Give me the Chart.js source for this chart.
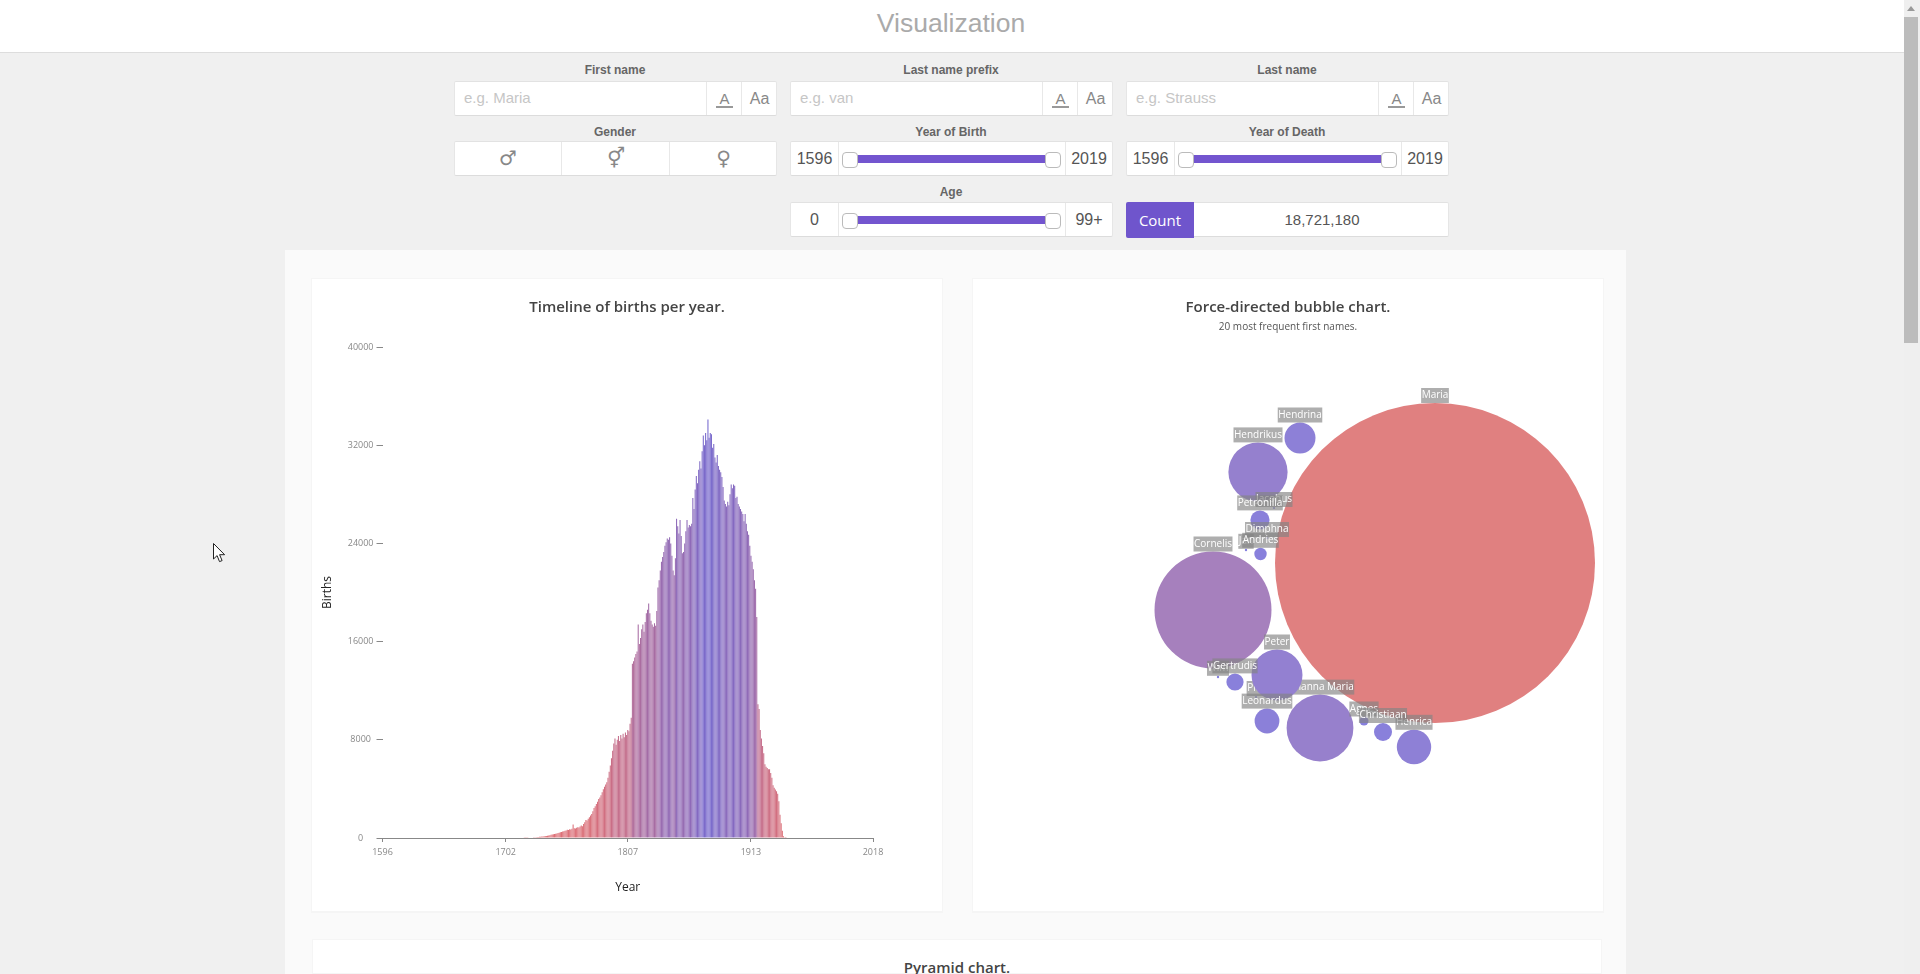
<!DOCTYPE html>
<html><head><meta charset="utf-8"><title>Visualization</title>
<script src="https://cdn.jsdelivr.net/npm/chart.js@4"></script>
<style>
html,body{margin:0;padding:0;width:1920px;height:974px;overflow:hidden;background:#f0f0f0;font-family:"Liberation Sans",Arial,sans-serif}
.a{position:absolute;box-sizing:border-box}
.hdr{left:0;top:0;width:1904px;height:53px;background:#fff;border-bottom:1px solid #ddd}
.ttl{left:0;top:0;width:1904px;text-align:center;padding-right:2px;font-size:26.5px;line-height:46px;color:#aaa}
.lab{font-weight:bold;font-size:12px;color:#666;text-align:center;line-height:14px}
.box{background:#fff;border:1px solid #e6e6e6;border-top-color:#e2e2e2;border-bottom:1px solid #dcdcdc;border-radius:2px;height:35px}
.cell{position:absolute;top:0;height:33px;line-height:33px;text-align:center;color:#555;font-size:16px;border-left:1px solid #e8e8e8}
.cell.n{border-left:none}
.ph{position:absolute;left:9px;top:-1px;line-height:33px;font-size:15px;color:#c6c6c6}
.track{position:absolute;height:8px;background:#7355cf}
.hd{position:absolute;width:16px;height:16px;background:#fff;border:1px solid #bbb;border-radius:4px;box-sizing:border-box}
.sym{font-family:"DejaVu Sans";font-size:20px;color:#888}
.panel{left:285px;top:250px;width:1341px;height:724px;background:#fafafa}
.card{background:#fff;border:1px solid #f5f5f5;box-shadow:0 1px 1px rgba(0,0,0,.02)}
canvas{display:block}
.sb{left:1904px;top:0;width:16px;height:974px;background:#efefef}
.th{left:1904px;top:17px;width:14px;height:326px;background:#bcbcbc}
.up{left:1907px;top:6px;width:0;height:0;border-left:4px solid transparent;border-right:4px solid transparent;border-bottom:5px solid #999}
.pyr{left:312px;top:939px;width:1290px;height:35px;text-align:center;font-family:"Open Sans";font-weight:600;font-size:15px;color:#444;line-height:18px;padding-top:18px}
</style></head><body>
<div class="a hdr"></div><div class="a ttl">Visualization</div>

<div class="a lab" style="left:454px;width:322px;top:63px">First name</div>
<div class="a lab" style="left:790px;width:322px;top:63px">Last name prefix</div>
<div class="a lab" style="left:1126px;width:322px;top:63px">Last name</div>
<div class="a lab" style="left:454px;width:322px;top:125px">Gender</div>
<div class="a lab" style="left:790px;width:322px;top:125px">Year of Birth</div>
<div class="a lab" style="left:1126px;width:322px;top:125px">Year of Death</div>
<div class="a lab" style="left:790px;width:322px;top:185px">Age</div>

<div class="a box" style="left:454px;top:81px;width:323px"><span class="ph">e.g. Maria</span>
 <div class="cell" style="left:251px;width:35px;color:#888;font-size:15px"><span style="display:inline-block;border-bottom:2px solid #999;line-height:15px;padding:0 3px">A</span></div><div class="cell" style="left:286px;width:35px;color:#888">Aa</div></div>
<div class="a box" style="left:790px;top:81px;width:323px"><span class="ph">e.g. van</span>
 <div class="cell" style="left:251px;width:35px;color:#888;font-size:15px"><span style="display:inline-block;border-bottom:2px solid #999;line-height:15px;padding:0 3px">A</span></div><div class="cell" style="left:286px;width:35px;color:#888">Aa</div></div>
<div class="a box" style="left:1126px;top:81px;width:323px"><span class="ph">e.g. Strauss</span>
 <div class="cell" style="left:251px;width:35px;color:#888;font-size:15px"><span style="display:inline-block;border-bottom:2px solid #999;line-height:15px;padding:0 3px">A</span></div><div class="cell" style="left:286px;width:35px;color:#888">Aa</div></div>

<div class="a box" style="left:454px;top:141px;width:323px">
 <div class="cell n sym" style="left:0;width:106px">♂</div><div class="cell sym" style="left:106px;width:108px">⚥</div><div class="cell sym" style="left:214px;width:107px">♀</div></div>

<div class="a box" style="left:790px;top:141px;width:323px">
 <div class="cell n" style="left:0;width:47px">1596</div><div class="cell" style="left:47px;width:1px"></div>
 <div class="track" style="left:64px;top:13px;width:190px"></div><div class="hd" style="left:51px;top:10px"></div><div class="hd" style="left:254px;top:10px"></div>
 <div class="cell" style="left:274px;width:46px">2019</div></div>
<div class="a box" style="left:1126px;top:141px;width:323px">
 <div class="cell n" style="left:0;width:47px">1596</div><div class="cell" style="left:47px;width:1px"></div>
 <div class="track" style="left:64px;top:13px;width:190px"></div><div class="hd" style="left:51px;top:10px"></div><div class="hd" style="left:254px;top:10px"></div>
 <div class="cell" style="left:274px;width:46px">2019</div></div>
<div class="a box" style="left:790px;top:202px;width:323px">
 <div class="cell n" style="left:0;width:47px">0</div><div class="cell" style="left:47px;width:1px"></div>
 <div class="track" style="left:64px;top:13px;width:190px"></div><div class="hd" style="left:51px;top:10px"></div><div class="hd" style="left:254px;top:10px"></div>
 <div class="cell" style="left:274px;width:46px">99+</div></div>
<div class="a box" style="left:1126px;top:202px;width:323px">
 <div class="cell n" style="left:68px;width:254px;font-size:15px">18,721,180</div></div>
<div class="a" style="left:1126px;top:202px;width:68px;height:36px;background:#6f55cc;border-radius:2px 0 0 2px;color:#fff;font-family:'Open Sans';font-size:15px;line-height:36px;text-align:center">Count</div>

<div class="a panel"></div>
<div class="a card" style="left:311px;top:278px;width:632px;height:634px"><canvas id="timeline" width="630" height="632"></canvas></div>
<div class="a card" style="left:972px;top:278px;width:632px;height:634px"><canvas id="bubble" width="630" height="632"></canvas></div>
<div class="a card pyr">Pyramid chart.</div>

<div class="a sb"></div><div class="a th"></div><div class="a up"></div>
<svg class="a" style="left:213px;top:543px" width="14" height="21" viewBox="0 0 14 21"><path d="M.5.5V16l3.6-3.4 2.4 6 2.6-1-2.5-5.9h5z" fill="#fff" stroke="#222"/></svg>

<script>
// --- Timeline of births per year ---
const firstBirthYear = 1718;
const births = [
 20,20,30,30,40,40,50,50,60,60,70,80,
 90,100,110,120,130,150,160,170,190,210,
 230,260,280,300,320,340,370,400,430,460,
 480,530,550,600,610,670,660,720,700,760,
 1100,790,770,830,880,850,930,1010,960,1150,
 1280,1460,1420,1560,1700,1830,1960,2180,2450,2580,
 2780,2950,3180,3300,3480,3720,3980,4180,4350,4550,
 4900,5400,5900,6500,7100,7700,8100,7600,8000,8300,
 7900,8400,8100,8500,8200,8600,8400,8800,8700,9300,
 9800,14200,14400,14700,15000,15200,17400,15800,16300,17000,
 17400,16800,17600,18300,18600,19100,18300,17700,17400,17200,
 17500,17300,18500,20400,21000,21800,22500,22900,23300,23800,
 24100,24400,24300,24500,24000,23000,21800,21400,22800,26000,
 25400,24800,25900,24600,23200,23300,24000,25000,25900,25300,
 25500,25400,25600,27700,26800,28400,29500,28900,30000,30700,
 30100,31500,32800,32000,33000,32400,34100,32600,33000,32900,
 31800,32100,31000,30600,31200,30300,30000,29800,29400,28600,
 27500,27200,27000,27400,27100,28000,28800,28500,28800,28700,
 27700,27800,27200,27000,26800,26600,26400,25800,26400,25600,
 25000,24700,23800,23000,22500,21900,21000,20300,18000,10900,
 10500,8800,8100,7500,6900,6000,5800,5700,5600,5600,
 5300,4900,4300,4100,3950,3800,3600,3000,1900,1200,
 600,150,60,10
];
const yearTicks = [1596,1702,1807,1913,2018];
const birthTicks = [0,8000,16000,24000,32000,40000];

// --- Force-directed bubble chart: painted back to front ---
const bubbleNames = ['Maria','Cornelis','Hendrikus','Hendrina','Jacobus','Jan','Petronilla','Dimphna','Andries','Johanna Maria','Piet','Peter','Wim','Gertrudis','Leonardus','Agnes','Henrica','Christiaan'];
const bubbleX = [463,241,286,328,302,274,288,295,288.5,348,284,305,246,263,295,392,442,411];
const bubbleY = [230,277,139,105,175,217,187,205,221,395,364,342,344,349,388,388,414,399];
const bubbleR = [160,58.5,29.6,15.5,1,1.2,9.6,1,6.2,33.4,1,25.5,1.2,8.6,12.4,4.5,17.2,9];

const RED=[224,128,128], BLUE=[132,128,224];
const BAR_RED=[222,112,118], BAR_BLUE=[116,104,206];
const mix=(a,b,t)=>`rgb(${a.map((v,i)=>Math.round(v+(b[i]-v)*t)).join(',')})`;
const PLOT_FONT='"Open Sans"';

new Chart(document.getElementById('timeline'),{
 type:'bar',
 data:{datasets:[{
  label:'Births',
  data:births.map((v,i)=>({x:firstBirthYear+i,y:v})),
  backgroundColor:births.map(v=>mix(BAR_RED,BAR_BLUE,Math.min(1,v/34000))),
  barThickness:1.05,inflateAmount:0,borderWidth:0
 }]},
 options:{responsive:false,animation:false,devicePixelRatio:1,
  layout:{padding:0},
  plugins:{legend:{display:false},tooltip:{enabled:false},
   title:{display:true,text:'Timeline of births per year.',color:'#444',font:{family:PLOT_FONT,size:15,weight:'600'},padding:{top:20,bottom:30}}},
  scales:{
   x:{type:'linear',min:1596,max:2018,offset:false,
    afterBuildTicks:s=>{s.ticks=yearTicks.map(v=>({value:v}))},
    afterFit:s=>{s.height=73},
    grid:{offset:false,drawOnChartArea:false,drawTicks:true,tickLength:4,tickColor:'#888'},
    border:{display:true,color:'#888'},
    ticks:{autoSkip:false,maxRotation:0,padding:5,color:'#888',font:{family:PLOT_FONT,size:9},callback:v=>String(v)},
    title:{display:true,text:'Year',color:'#222',font:{family:PLOT_FONT,size:12},padding:{top:4,bottom:16}}},
   y:{min:0,max:40000,
    afterBuildTicks:s=>{s.ticks=birthTicks.map(v=>({value:v}))},
    afterFit:s=>{s.width=70.5},
    grid:{drawOnChartArea:false,drawTicks:true,tickLength:6,tickColor:'#888'},
    border:{display:false},
    ticks:{crossAlign:'center',padding:3,color:'#888',font:{family:PLOT_FONT,size:9},callback:v=>String(v)},
    title:{display:true,text:'Births',color:'#222',font:{family:PLOT_FONT,size:12},padding:{top:8,bottom:8}}},
   rightMargin:{position:'right',display:true,min:0,max:1,
    afterFit:s=>{s.width=69},
    ticks:{display:false},grid:{display:false},border:{display:false}}
  }}
});

const nodeLabels={id:'nodeLabels',afterDatasetDraw(chart,args){
 const el=args.meta.data[0]; if(!el) return;
 const name=chart.data.datasets[args.index].label, r=chart.data.datasets[args.index].data[0].r;
 const ctx=chart.ctx; ctx.save();
 ctx.font='10px '+PLOT_FONT; ctx.textAlign='center'; ctx.textBaseline='middle';
 const w=ctx.measureText(name).width+1, h=15, top=el.y-r-h;
 ctx.fillStyle='rgba(130,130,130,.65)'; ctx.fillRect(el.x-w/2,top,w,h);
 ctx.fillStyle='#fff'; ctx.fillText(name,el.x,top+h/2);
 ctx.restore();
}};
new Chart(document.getElementById('bubble'),{
 type:'bubble',
 data:{datasets:bubbleNames.map((n,i)=>({label:n,order:bubbleNames.length-i,clip:false,
   data:[{x:bubbleX[i],y:bubbleY[i],r:bubbleR[i]}],
   backgroundColor:mix(BLUE,RED,bubbleR[i]/160),borderWidth:0}))},
 options:{responsive:false,animation:false,devicePixelRatio:1,
  layout:{padding:0,autoPadding:false},
  plugins:{legend:{display:false},tooltip:{enabled:false},
   title:{display:true,text:'Force-directed bubble chart.',color:'#444',font:{family:PLOT_FONT,size:15,weight:'600'},padding:{top:20,bottom:0}},
   subtitle:{display:true,text:'20 most frequent first names.',color:'#555',font:{family:PLOT_FONT,size:10},padding:{top:4,bottom:0}}},
  scales:{x:{display:false,min:1,max:631},y:{display:false,min:0,max:578,reverse:true}}},
 plugins:[nodeLabels]
});
</script>
</body></html>
